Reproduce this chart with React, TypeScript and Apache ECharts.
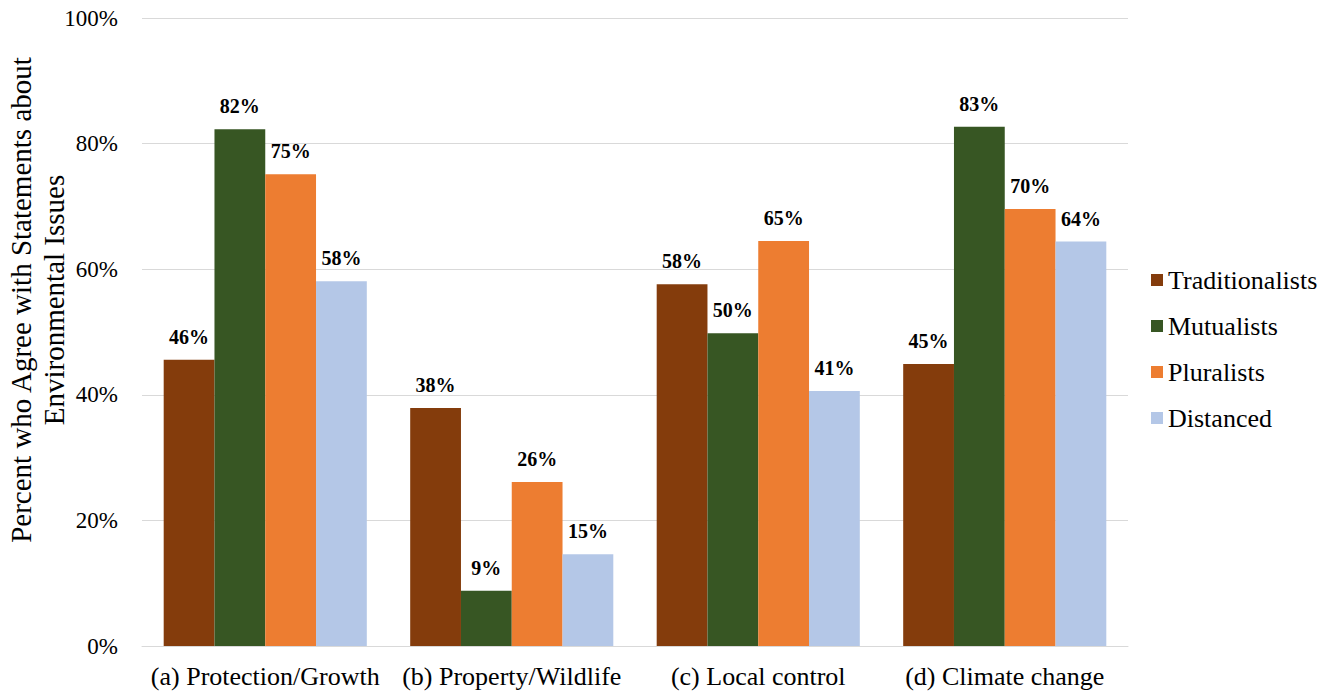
import React, { useEffect, useRef } from "react";
import * as echarts from "echarts";

const categories = [
  "(a) Protection/Growth",
  "(b) Property/Wildlife",
  "(c) Local control",
  "(d) Climate change",
];
const seriesNames = ["Traditionalists", "Mutualists", "Pluralists", "Distanced"];
const traditionalists = [45.6, 37.9, 57.6, 44.9];
const mutualists = [82.3, 8.8, 49.8, 82.7];
const pluralists = [75.1, 26.1, 64.5, 69.6];
const distanced = [58.1, 14.6, 40.6, 64.4];
const colors = ["#843C0C", "#375623", "#ED7D31", "#B4C7E7"];
const yTicks = [0, 20, 40, 60, 80, 100];

const FONT = "Liberation Serif";

export default function App() {
  const ref = useRef<HTMLDivElement>(null);
  useEffect(() => {
    if (!ref.current) return;
    const chart = echarts.init(ref.current, undefined, { renderer: "svg" });
    const data = [traditionalists, mutualists, pluralists, distanced];
    chart.setOption({
      animation: false,
      textStyle: { fontFamily: FONT },
      grid: { left: 142, right: 208, top: 18, bottom: 45, containLabel: false, outerBoundsMode: "none" },
      legend: {
        orient: "vertical",
        left: 1146,
        top: 262,
        itemWidth: 12,
        itemHeight: 12,
        itemGap: 20,
        icon: "rect",
        textStyle: { fontFamily: FONT, fontSize: 26, color: "#000" },
        data: seriesNames,
      },
      xAxis: {
        type: "category",
        data: categories,
        axisLine: { lineStyle: { color: "#D9D9D9", width: 1 } },
        axisTick: { show: false },
        axisLabel: { fontFamily: FONT, fontSize: 26, color: "#000", margin: 17, interval: 0 },
      },
      yAxis: {
        type: "value",
        min: yTicks[0],
        max: yTicks[yTicks.length - 1],
        interval: 20,
        name: "Percent who Agree with Statements about\nEnvironmental Issues",
        nameLocation: "middle",
        nameGap: 72,
        nameMoveOverlap: false,
        nameTextStyle: {
          fontFamily: FONT,
          fontSize: 29,
          color: "#000",
          lineHeight: 33,
          padding: [0, 0, 0, 64],
        },
        axisLine: { show: false },
        axisTick: { show: false },
        axisLabel: { fontFamily: FONT, fontSize: 23, color: "#000", margin: 24, formatter: "{value}%" },
        splitLine: { lineStyle: { color: "#D9D9D9", width: 1 } },
      },
      series: seriesNames.map((name, i) => ({
        name,
        type: "bar",
        data: data[i],
        barGap: "0%",
        barCategoryGap: "17.6%",
        itemStyle: { color: colors[i] },
        label: {
          show: true,
          position: "top",
          distance: 13,
          fontFamily: FONT,
          fontSize: 20,
          fontWeight: "bold",
          color: "#000",
          formatter: (p: any) => Math.round(p.value) + "%",
        },
      })),
    });
    return () => chart.dispose();
  }, []);
  return (
    <div
      ref={ref}
      style={{ position: "absolute", left: 0, top: 0, width: 1336, height: 691 }}
    />
  );
}
